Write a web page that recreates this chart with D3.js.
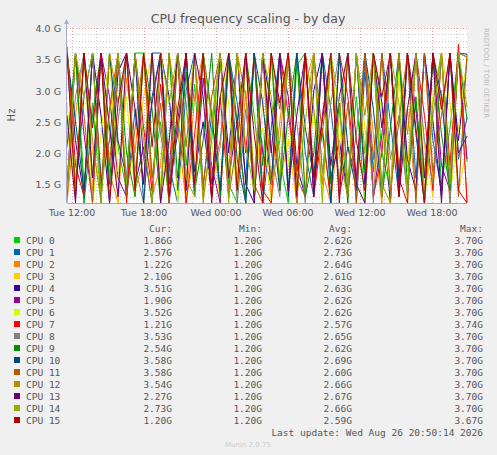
<!DOCTYPE html>
<html><head><meta charset="utf-8">
<script src="https://cdn.jsdelivr.net/npm/d3@7"></script>
<style>body{margin:0;background:#f0f0f0;}svg{display:block;}</style>
</head><body><svg id="c" width="497" height="455"></svg>
<script>
const cpuNames = ['CPU 0','CPU 1','CPU 2','CPU 3','CPU 4','CPU 5','CPU 6','CPU 7','CPU 8','CPU 9','CPU 10','CPU 11','CPU 12','CPU 13','CPU 14','CPU 15'];
const cpuColors = ['#00cc00','#0066b3','#ff8000','#ffcc00','#330099','#990099','#ccff00','#ff0000','#808080','#008f00','#00487d','#b35a00','#b38f00','#6b006b','#8fb300','#b30000'];
const curVals = ['1.86G','2.57G','1.22G','2.10G','3.51G','1.90G','3.52G','1.21G','3.53G','2.54G','3.58G','3.58G','3.54G','2.27G','2.73G','1.20G'];
const minVals = Array(16).fill('1.20G');
const avgVals = ['2.62G','2.73G','2.64G','2.61G','2.63G','2.62G','2.62G','2.57G','2.65G','2.62G','2.69G','2.60G','2.66G','2.67G','2.66G','2.59G'];
const maxVals = ['3.70G','3.70G','3.70G','3.70G','3.70G','3.70G','3.70G','3.74G','3.70G','3.70G','3.70G','3.70G','3.70G','3.70G','3.70G','3.67G'];
const yTicks = [1.5, 2.0, 2.5, 3.0, 3.5, 4.0];
const xTickLabels = ['Tue 12:00','Tue 18:00','Wed 00:00','Wed 06:00','Wed 12:00','Wed 18:00'];
const xTickHours = [12, 18, 24, 30, 36, 42];
// GHz samples, roughly every 40 minutes from Tue 11:35 to Wed 20:55
const series = [
 [1.3,3.6,1.5,2.8,1.2,3.6,2.1,1.4,3.6,3.6,1.6,2.5,1.2,3.6,1.8,3.1,1.3,2.2,3.6,1.5,1.2,3.6,2.6,1.4,3.6,1.9,1.2,3.4,3.6,1.6,2.3,1.3,3.6,1.5,2.9,1.2,3.6,2.0,1.4,3.6,1.7,2.8,1.2,3.6,1.5,2.4,3.6,1.86],
 [3.6,1.4,2.9,3.6,1.6,2.2,3.6,1.3,2.7,1.5,3.6,3.6,1.8,1.2,3.0,3.6,1.5,2.6,1.3,3.6,2.8,1.6,3.6,1.2,2.4,3.6,1.4,3.6,2.0,1.3,3.6,2.7,1.5,3.6,1.2,3.3,1.7,3.6,2.5,1.3,3.6,1.6,3.6,2.2,1.4,3.6,1.9,2.57],
 [1.2,2.6,3.6,1.4,3.6,1.7,1.2,3.2,2.0,3.6,1.3,1.8,3.6,2.4,1.2,2.9,3.6,1.5,2.1,3.6,1.3,3.0,1.6,3.6,1.2,2.5,3.6,1.4,3.1,3.6,1.7,1.2,2.6,3.6,1.4,3.6,2.3,1.2,3.6,1.8,2.7,1.3,3.6,1.5,3.0,1.2,3.6,1.22],
 [2.4,1.3,3.6,2.0,1.5,3.6,1.2,3.6,1.7,2.9,3.6,1.4,2.2,3.6,1.3,1.9,3.6,2.7,1.2,3.4,1.6,3.6,1.3,2.8,3.6,1.5,2.2,1.2,3.6,2.6,1.4,3.6,1.9,1.3,3.6,2.4,1.5,3.6,1.2,3.2,1.7,3.6,2.1,1.3,3.6,2.8,1.4,2.10],
 [3.6,2.2,1.3,3.6,2.6,1.2,3.3,3.6,1.5,2.1,1.2,3.6,2.9,1.4,3.6,1.7,2.5,1.3,3.6,2.0,3.6,1.5,1.2,3.6,2.7,1.4,3.6,1.8,1.3,3.0,3.6,1.6,2.2,1.3,3.6,1.5,3.6,2.8,1.2,3.6,1.9,1.4,3.6,2.5,1.3,3.6,2.2,3.51],
 [1.5,3.6,2.3,1.2,3.6,2.9,1.6,1.3,3.6,1.9,2.8,3.6,1.2,2.5,3.6,1.4,3.2,1.8,1.2,3.6,2.4,1.3,3.6,2.0,1.5,3.6,2.9,1.2,3.6,1.4,2.6,3.6,1.3,2.1,1.6,3.6,1.3,2.3,3.6,1.5,3.6,2.7,1.2,3.6,1.8,1.4,3.6,1.90],
 [2.8,1.4,3.6,1.2,2.3,3.6,1.7,2.9,1.3,3.6,2.2,1.5,3.6,1.2,2.6,3.6,1.4,1.9,3.6,2.8,1.3,3.6,1.6,2.4,1.2,3.6,1.8,3.6,1.4,2.7,1.3,3.6,2.1,3.6,1.5,1.2,3.6,2.6,1.4,3.3,1.2,3.6,1.7,2.9,3.6,1.3,2.4,3.52],
 [3.7,1.8,1.3,3.6,1.5,2.7,3.6,1.2,3.6,2.4,1.4,3.1,1.7,3.6,1.2,2.3,3.6,1.5,2.9,1.3,3.6,2.0,3.6,1.4,1.2,3.6,2.6,1.7,3.6,1.3,2.4,1.2,3.6,2.9,1.5,3.6,1.3,2.0,3.6,1.6,1.2,3.6,2.6,1.4,3.6,1.8,3.74,1.21],
 [1.4,2.9,3.6,1.6,3.6,1.3,2.5,3.6,1.8,1.2,3.6,2.3,1.5,3.6,2.8,1.3,3.6,1.6,2.2,3.6,1.2,2.7,1.4,3.6,2.0,1.3,3.6,2.5,1.2,3.6,1.7,2.8,3.6,1.4,2.3,3.6,1.2,3.6,1.9,2.6,1.3,3.6,2.2,1.5,3.6,1.2,3.6,3.53],
 [2.1,3.6,1.2,2.6,3.6,1.5,3.6,2.0,1.3,3.6,2.7,1.2,3.6,1.6,3.3,1.4,2.2,3.6,1.3,3.6,2.5,1.2,3.6,1.8,3.6,1.4,2.6,3.6,1.3,2.0,3.6,1.5,2.8,1.2,3.6,1.7,3.6,1.3,2.4,3.6,1.5,2.9,1.2,3.6,2.3,1.4,3.6,2.54],
 [3.6,2.5,1.4,3.6,1.3,3.6,2.2,1.6,3.6,1.2,2.9,3.6,1.5,2.3,3.6,1.3,3.6,2.6,1.4,3.6,1.9,1.2,3.6,2.8,1.5,3.6,1.3,3.6,2.4,1.6,3.6,1.2,3.6,2.1,1.4,3.6,2.7,1.3,3.6,1.6,3.6,2.3,1.2,3.6,2.9,1.5,3.6,3.58],
 [1.3,3.6,2.6,1.2,3.6,1.8,3.6,1.3,2.4,3.6,1.6,2.8,1.2,3.6,2.1,3.6,1.4,2.9,3.6,1.3,2.2,3.6,1.5,1.2,3.6,2.7,3.6,1.6,1.3,3.6,2.3,3.6,1.4,2.8,1.2,3.6,1.9,3.6,1.4,2.5,3.6,1.2,3.6,1.7,2.6,3.6,1.3,3.58],
 [3.7,1.5,3.6,2.2,1.2,3.6,2.8,3.6,1.4,1.9,3.6,1.3,3.6,2.6,1.5,3.6,1.2,2.4,3.6,1.7,3.6,2.9,1.3,3.6,1.5,2.2,3.6,1.2,3.6,2.7,1.5,3.6,2.0,1.3,3.6,2.6,3.6,1.5,1.2,3.6,2.3,3.6,1.4,2.8,3.6,1.6,3.6,3.54],
 [2.6,1.2,3.6,1.6,3.6,2.4,1.3,3.6,2.7,1.5,3.6,1.2,2.2,3.6,1.4,3.6,2.9,1.3,3.6,1.6,2.5,3.6,1.2,3.6,2.0,3.6,1.4,2.6,3.6,1.3,3.6,1.8,2.9,3.6,1.5,1.2,3.6,2.4,3.6,1.3,2.7,3.6,1.6,3.6,1.2,3.6,2.0,2.27],
 [1.4,3.6,2.9,3.6,1.3,2.6,3.6,1.5,3.6,2.2,1.2,3.6,2.8,3.6,1.6,1.3,3.6,2.5,3.6,1.2,3.6,2.1,1.4,3.6,2.9,1.6,3.6,1.3,2.5,3.6,1.2,3.6,2.7,1.5,3.6,2.0,3.6,1.3,3.6,2.8,1.4,3.6,1.2,2.6,3.6,1.5,3.6,2.73],
 [3.6,1.3,3.6,2.4,3.6,1.2,2.8,3.6,1.4,3.6,2.1,3.6,1.3,2.7,3.6,1.5,3.6,1.2,2.9,3.6,1.4,3.6,2.3,1.2,3.6,2.8,3.6,1.3,3.6,1.6,2.5,3.6,1.2,3.6,2.2,1.4,3.6,2.9,3.6,1.3,3.6,2.4,1.2,3.6,2.7,3.6,1.4,1.20]
];

const svg = d3.select('#c');
const font = 'DejaVu Sans Mono, monospace';
const L = 67, R = 467, T = 28, B = 203;
const x = d3.scaleLinear().domain([11.58, 44.92]).range([L, R]);
const y = d3.scaleLinear().domain([1.2, 4.0]).range([B, T]);

svg.append('rect').attr('x', L).attr('y', T).attr('width', R - L).attr('height', B - T).attr('fill', '#fff');

// minor grid
d3.range(1.3, 4.01, 0.1).forEach(v => {
    svg.append('line').attr('x1', L).attr('x2', R).attr('y1', Math.round(y(v)) + 0.5).attr('y2', Math.round(y(v)) + 0.5)
        .attr('stroke', '#ccc').attr('stroke-dasharray', '1,2');
});
d3.range(12, 45, 2).forEach(h => {
    svg.append('line').attr('y1', T).attr('y2', B).attr('x1', Math.round(x(h)) + 0.5).attr('x2', Math.round(x(h)) + 0.5)
        .attr('stroke', '#ccc').attr('stroke-dasharray', '1,2');
});
// major grid
yTicks.forEach(v => {
    svg.append('line').attr('x1', L).attr('x2', R).attr('y1', Math.round(y(v)) + 0.5).attr('y2', Math.round(y(v)) + 0.5)
        .attr('stroke', '#e6a0a0').attr('stroke-dasharray', '1,2');
});
xTickHours.forEach(h => {
    svg.append('line').attr('y1', T).attr('y2', B).attr('x1', Math.round(x(h)) + 0.5).attr('x2', Math.round(x(h)) + 0.5)
        .attr('stroke', '#e6a0a0').attr('stroke-dasharray', '1,2');
});

// series
const n = series[0].length;
const line = d3.line().x((d, i) => x(11.58 + i * (44.92 - 11.58) / (n - 1))).y(d => y(d));
series.forEach((s, k) => {
    svg.append('path').attr('d', line(s)).attr('fill', 'none').attr('stroke', cpuColors[k]).attr('stroke-width', 1);
});

// axes
svg.append('line').attr('x1', L - 0.5).attr('x2', L - 0.5).attr('y1', T - 6).attr('y2', B).attr('stroke', '#aac');
svg.append('path').attr('d', `M${L - 3},${T - 4}L${L - 0.5},${T - 9}L${L + 2},${T - 4}Z`).attr('fill', '#aac');
svg.append('line').attr('x1', L).attr('x2', R).attr('y1', B + 0.5).attr('y2', B + 0.5).attr('stroke', '#aaa');

const tc = '#555';
yTicks.forEach(v => {
    svg.append('text').attr('x', 61).attr('y', y(v) + 4).attr('text-anchor', 'end')
        .attr('font-family', 'DejaVu Sans, sans-serif').attr('font-size', 9.5).attr('fill', tc).text(v.toFixed(1) + ' G');
});
xTickHours.forEach((h, i) => {
    svg.append('text').attr('x', x(h)).attr('y', 216).attr('text-anchor', 'middle')
        .attr('font-family', 'DejaVu Sans, sans-serif').attr('font-size', 9.5).attr('fill', tc).text(xTickLabels[i]);
});
svg.append('text').attr('transform', 'translate(15,115) rotate(-90)').attr('text-anchor', 'middle')
    .attr('font-family', 'DejaVu Sans, sans-serif').attr('font-size', 10).attr('fill', tc).text('Hz');
svg.append('text').attr('x', 248).attr('y', 23).attr('text-anchor', 'middle')
    .attr('font-family', 'DejaVu Sans, sans-serif').attr('font-size', 12.5).attr('fill', tc).text('CPU frequency scaling - by day');
svg.append('text').attr('transform', 'translate(484,28) rotate(90)')
    .attr('font-family', 'DejaVu Sans, sans-serif').attr('font-size', 7).attr('fill', '#bbb').text('RRDTOOL / TOBI OETIKER');

// legend
const colX = [172, 262, 352, 483];
['Cur:', 'Min:', 'Avg:', 'Max:'].forEach((h, i) => {
    svg.append('text').attr('x', colX[i]).attr('y', 232).attr('text-anchor', 'end')
        .attr('font-family', font).attr('font-size', 9.5).attr('fill', tc).text(h);
});
cpuNames.forEach((nm, k) => {
    const yy = 244 + k * 12;
    svg.append('rect').attr('x', 14).attr('y', yy - 7).attr('width', 6).attr('height', 6).attr('fill', cpuColors[k]);
    svg.append('text').attr('x', 26).attr('y', yy).attr('font-family', font).attr('font-size', 9.5).attr('fill', tc).text(nm);
    [curVals, minVals, avgVals, maxVals].forEach((arr, i) => {
        svg.append('text').attr('x', colX[i]).attr('y', yy).attr('text-anchor', 'end')
            .attr('font-family', font).attr('font-size', 9.5).attr('fill', tc).text(arr[k]);
    });
});
svg.append('text').attr('x', 483).attr('y', 436).attr('text-anchor', 'end')
    .attr('font-family', font).attr('font-size', 9.5).attr('fill', tc).text('Last update: Wed Aug 26 20:50:14 2026');
svg.append('text').attr('x', 248).attr('y', 447).attr('text-anchor', 'middle')
    .attr('font-family', 'DejaVu Sans, sans-serif').attr('font-size', 7).attr('fill', '#ccc').text('Munin 2.0.75');
</script></body></html>
